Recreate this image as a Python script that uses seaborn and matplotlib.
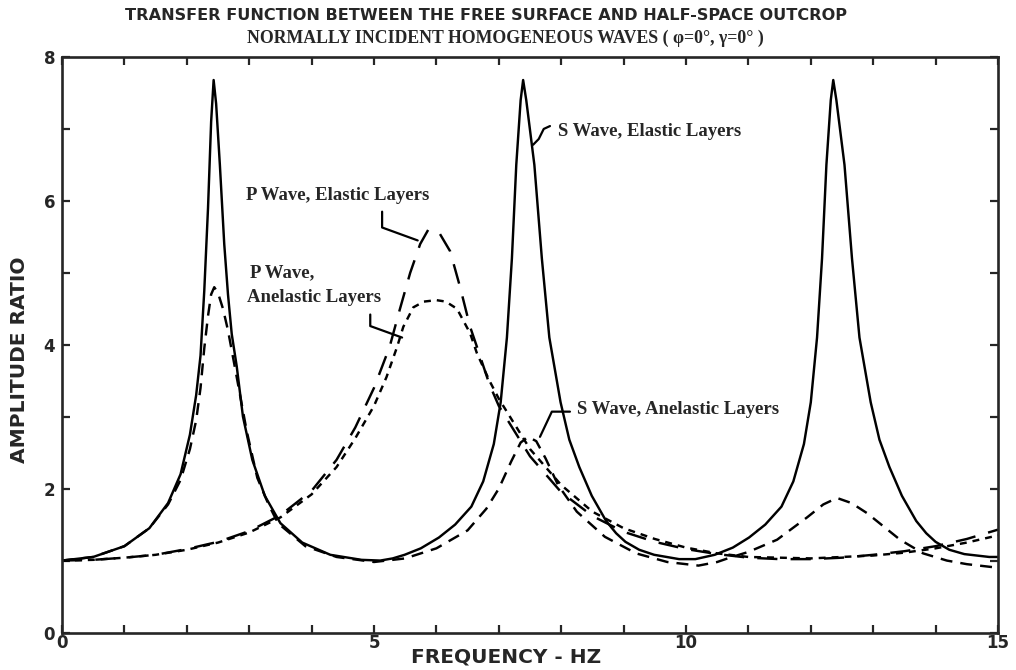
import matplotlib
matplotlib.use("Agg")
import matplotlib.pyplot as plt
import pandas as pd
import seaborn as sns

# ---- transfer-function amplitudes (frequency in Hz, amplitude ratio) ----
freq_s_elastic = [0.0, 0.5, 1.0, 1.4, 1.7, 1.9, 2.05, 2.15, 2.22, 2.28, 2.34, 2.39, 2.43,
                  2.47, 2.53, 2.6, 2.66, 2.72, 2.8, 2.9, 3.05, 3.25, 3.5, 3.85, 4.3, 4.8, 5.1,
                  5.3, 5.49, 5.75, 6.04, 6.3, 6.56, 6.75, 6.92, 7.03, 7.13, 7.21, 7.28, 7.35,
                  7.39, 7.44, 7.57, 7.69, 7.81, 7.99, 8.13, 8.29, 8.49, 8.72, 8.88, 9.03,
                  9.25, 9.49, 9.89, 10.15, 10.46, 10.75, 11.01, 11.27, 11.53, 11.72, 11.89,
                  12.0, 12.1, 12.18, 12.25, 12.32, 12.36, 12.41, 12.54, 12.66, 12.78, 12.96,
                  13.1, 13.26, 13.46, 13.69, 13.85, 14.0, 14.22, 14.46, 14.86, 15.0]
amp_s_elastic = [1.0, 1.05, 1.2, 1.45, 1.8, 2.2, 2.75, 3.3, 3.85, 4.75, 5.9, 7.1, 7.68,
                 7.35, 6.5, 5.4, 4.7, 4.15, 3.7, 3.0, 2.4, 1.9, 1.52, 1.25, 1.08, 1.01, 1.0,
                 1.03, 1.08, 1.17, 1.32, 1.5, 1.75, 2.1, 2.62, 3.2, 4.1, 5.2, 6.5, 7.4,
                 7.68, 7.4, 6.5, 5.2, 4.1, 3.2, 2.68, 2.3, 1.9, 1.55, 1.38, 1.26,
                 1.15, 1.08, 1.02, 1.02, 1.08, 1.18, 1.32, 1.5, 1.75, 2.1, 2.62,
                 3.2, 4.1, 5.2, 6.5, 7.4, 7.68, 7.4, 6.5, 5.2, 4.1, 3.2,
                 2.68, 2.3, 1.9, 1.55, 1.38, 1.26, 1.15, 1.09, 1.05, 1.05]

freq_s_anelastic = [0.0, 0.5, 1.0, 1.4, 1.7, 1.9, 2.05, 2.15, 2.22, 2.28, 2.34, 2.39, 2.44,
                    2.5, 2.58, 2.66, 2.8, 2.96, 3.13, 3.3, 3.46, 3.9, 4.4, 5.0,
                    5.5, 6.0, 6.5, 6.8, 7.0, 7.2, 7.35, 7.47, 7.6, 7.75, 7.95, 8.25, 8.7,
                    9.2, 9.7, 10.2, 10.5, 10.7, 11.0, 11.46, 11.94, 12.2, 12.42, 12.65,
                    12.9, 13.43, 13.8, 14.18, 14.5, 15.0]
amp_s_anelastic = [1.0, 1.05, 1.2, 1.45, 1.78, 2.12, 2.55, 2.95, 3.4, 3.95, 4.4, 4.7, 4.8,
                   4.72, 4.5, 4.2, 3.55, 2.8, 2.15, 1.8, 1.52, 1.2, 1.05, 0.98,
                   1.03, 1.17, 1.42, 1.72, 2.0, 2.38, 2.64, 2.72, 2.66, 2.42, 2.05, 1.68, 1.33,
                   1.1, 0.98, 0.93, 0.98, 1.04, 1.12, 1.29, 1.6, 1.78, 1.87, 1.8,
                   1.66, 1.29, 1.1, 1.0, 0.95, 0.9]

freq_p_elastic = [0.0, 0.5, 1.0, 1.5, 2.0, 2.5, 3.0, 3.5, 4.0, 4.4, 4.7, 5.0, 5.25, 5.41,
                  5.58, 5.74, 5.87, 6.05, 6.22, 6.38, 6.54, 6.65, 6.85, 7.0, 7.5, 8.0, 8.5,
                  9.0, 9.5, 10.0, 10.5, 11.0, 11.5, 12.0, 12.5, 13.0, 13.5, 14.0, 14.5, 15.0]
amp_p_elastic = [1.0, 1.01, 1.04, 1.08, 1.16, 1.26, 1.41, 1.63, 1.97, 2.4, 2.85, 3.4, 3.97, 4.48,
                 5.0, 5.4, 5.6, 5.55, 5.3, 4.8, 4.25, 3.97, 3.45, 3.15, 2.45, 1.95, 1.62,
                 1.4, 1.26, 1.16, 1.09, 1.04, 1.02, 1.02, 1.04, 1.08, 1.13, 1.2, 1.3, 1.43]

freq_p_anelastic = [0.0, 0.5, 1.0, 1.5, 2.0, 2.5, 3.0, 3.5, 4.0, 4.4, 4.7, 5.0, 5.2, 5.37,
                    5.47, 5.63, 5.8, 6.0, 6.15, 6.33, 6.54, 6.65, 6.85, 7.0, 7.5, 8.0, 8.5,
                    9.0, 9.5, 10.0, 10.5, 11.0, 12.0, 13.0, 13.5, 14.0, 14.5, 15.0]
amp_p_anelastic = [1.0, 1.01, 1.04, 1.08, 1.15, 1.25, 1.39, 1.6, 1.92, 2.3, 2.7, 3.15, 3.55, 3.97,
                   4.25, 4.52, 4.6, 4.62, 4.6, 4.5, 4.16, 3.88, 3.5, 3.25, 2.55, 2.05, 1.68,
                   1.45, 1.3, 1.18, 1.1, 1.05, 1.03, 1.07, 1.11, 1.17, 1.25, 1.35]

series_names = ["S Wave, Elastic Layers", "S Wave, Anelastic Layers",
                "P Wave, Elastic Layers", "P Wave, Anelastic Layers"]

# ---- styling ----
sns.set_style("ticks")
plt.rcParams["font.family"] = ["DejaVu Sans"]
plt.rcParams["lines.scale_dashes"] = False

dash_map = {
    "S Wave, Elastic Layers": "",
    "S Wave, Anelastic Layers": (8.6, 5.8),
    "P Wave, Elastic Layers": (14.5, 9.5),
    "P Wave, Anelastic Layers": (5.0, 4.3),
}

frames = []
for name, f, a in zip(series_names,
                      [freq_s_elastic, freq_s_anelastic, freq_p_elastic, freq_p_anelastic],
                      [amp_s_elastic, amp_s_anelastic, amp_p_elastic, amp_p_anelastic]):
    frames.append(pd.DataFrame({"freq": f, "amp": a, "series": name}))
df = pd.concat(frames, ignore_index=True)

W, H = 1016, 670
fig = plt.figure(figsize=(W / 100, H / 100), dpi=100)
ax = fig.add_axes([62 / W, 37.5 / H, 936 / W, 575.5 / H])

sns.lineplot(data=df, x="freq", y="amp", hue="series", style="series",
             palette={n: "black" for n in series_names}, dashes=dash_map,
             estimator=None, sort=False, legend=False, linewidth=1.75, ax=ax)
for ln in ax.get_lines():
    ln.set_solid_joinstyle("round")

ax.set_xlim(0, 15)
ax.set_ylim(0, 8)
ax.set_xticks(range(0, 16))
ax.set_xticklabels([str(v) if v % 5 == 0 else "" for v in range(0, 16)])
ax.set_yticks(range(0, 9))
ax.set_yticklabels([str(v) if v % 2 == 0 else "" for v in range(0, 9)])
ax.tick_params(direction="in", length=6, width=1.6, top=True, right=True,
               labelsize=12)
ax.tick_params(axis="x", pad=1)
ax.tick_params(axis="y", pad=5)
for lab in ax.get_xticklabels() + ax.get_yticklabels():
    lab.set_fontweight("bold")
for sp in ax.spines.values():
    sp.set_linewidth(1.9)
    sp.set_visible(True)
ax.set_xlabel("")
ax.set_ylabel("")

# ---- titles and axis labels ----
fig.text(486 / W, 1 - 16 / H,
         "TRANSFER FUNCTION BETWEEN THE FREE SURFACE AND HALF-SPACE OUTCROP",
         ha="center", va="center", fontsize=11.6, fontweight="bold")
fig.text(505 / W, 1 - 38 / H,
         "NORMALLY INCIDENT HOMOGENEOUS WAVES ( \u03c6=0\u00b0, \u03b3=0\u00b0 )",
         ha="center", va="center", fontsize=12.8, family="Liberation Serif",
         fontweight="bold")
fig.text(20 / W, 1 - 360 / H, "AMPLITUDE RATIO", rotation=90,
         ha="center", va="center", fontsize=14.5, fontweight="bold")
fig.text(506 / W, 1 - 657 / H, "FREQUENCY - HZ", ha="center", va="center",
         fontsize=14.5, fontweight="bold")

# ---- curve labels with leader lines ----
label_kw = dict(ha="left", va="center", family="Liberation Serif",
                fontweight="bold", fontsize=13.5)
fig.text(558 / W, 1 - 131 / H, "S Wave, Elastic Layers", **label_kw)
fig.text(246 / W, 1 - 196 / H, "P Wave, Elastic Layers", **label_kw)
fig.text(250 / W, 1 - 273 / H, "P Wave,", **label_kw)
fig.text(247 / W, 1 - 298 / H, "Anelastic Layers", **label_kw)
fig.text(577 / W, 1 - 410 / H, "S Wave, Anelastic Layers", **label_kw)

leaders = [
    ([7.82, 7.72, 7.64, 7.55], [7.04, 7.00, 6.86, 6.78]),
    ([5.13, 5.13, 5.70], [5.85, 5.63, 5.45]),
    ([4.94, 4.94, 5.45], [4.42, 4.26, 4.10]),
    ([8.14, 7.85, 7.66], [3.07, 3.07, 2.72]),
]
for lx, ly in leaders:
    ax.plot(lx, ly, color="black", lw=1.6, solid_capstyle="round")

fig.savefig("out.png", dpi=100)
